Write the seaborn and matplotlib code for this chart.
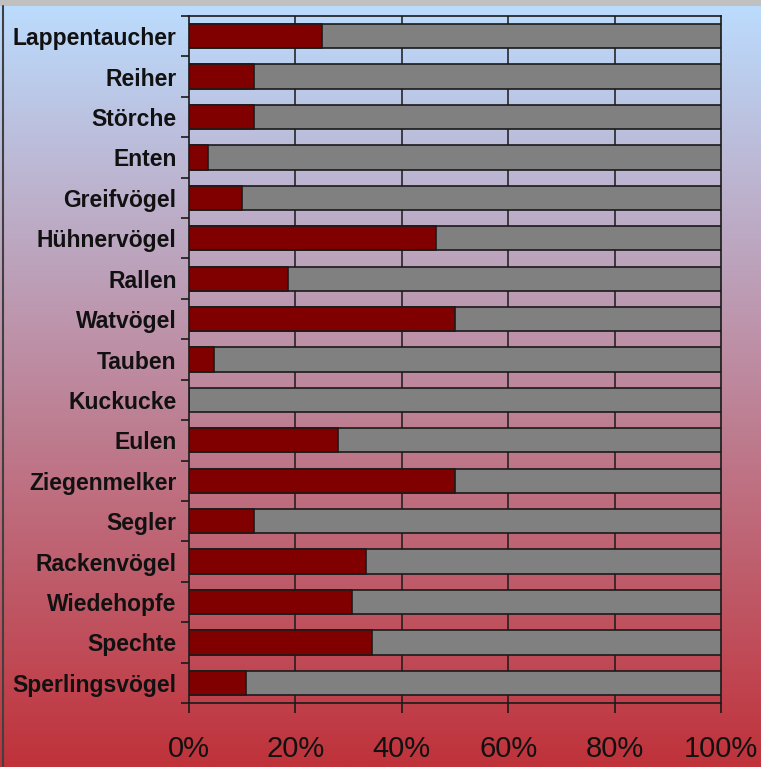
import matplotlib
matplotlib.use('Agg')
import matplotlib.pyplot as plt
import numpy as np
import pandas as pd
import seaborn as sns

# Data (share in %)
birds = ['Lappentaucher', 'Reiher', 'Störche', 'Enten', 'Greifvögel', 'Hühnervögel',
         'Rallen', 'Watvögel', 'Tauben', 'Kuckucke', 'Eulen', 'Ziegenmelker',
         'Segler', 'Rackenvögel', 'Wiedehopfe', 'Spechte', 'Sperlingsvögel']
share = [25.0, 12.2, 12.2, 3.6, 10.0, 46.4, 18.6, 50.0, 4.7, 0.0, 28.0, 50.0,
         12.2, 33.3, 30.6, 34.4, 10.7]
total = [100] * len(birds)
x_ticks = [0, 20, 40, 60, 80, 100]
x_labels = ['0%', '20%', '40%', '60%', '80%', '100%']

df = pd.DataFrame({'bird': birds, 'share': share, 'total': total})

sns.set_theme(style='white')
plt.rcParams['font.family'] = ['Liberation Sans', 'DejaVu Sans']

fig = plt.figure(figsize=(7.61, 7.67), dpi=100)

# background gradient (light blue at top -> red at bottom)
bg = fig.add_axes([0, 0, 1, 1], zorder=-5)
top_c = np.array([187, 221, 255]) / 255
bot_c = np.array([192, 50, 58]) / 255
t = np.linspace(0, 1, 256)[:, None]
grad = (top_c[None, :] * (1 - t) + bot_c[None, :] * t)[:, None, :]
bg.imshow(grad, aspect='auto', extent=[0, 1, 0, 1], origin='upper')
bg.add_patch(plt.Rectangle((0, 1 - 6 / 767), 1, 6 / 767, color='#c0c0c0', lw=0))
bg.plot([2.5 / 761, 2.5 / 761], [0, 1 - 6 / 767], color='#404040', lw=1.5)
bg.set_xlim(0, 1)
bg.set_ylim(0, 1)
bg.axis('off')

ax = fig.add_axes([189 / 761, 1 - 703 / 767, 532 / 761, 687 / 767])
ax.set_facecolor('none')

sns.barplot(data=df, x='total', y='bird', color='#808080', width=0.6,
            edgecolor='#1a1a1a', linewidth=1.2, saturation=1, ax=ax, zorder=3)
sns.barplot(data=df, x='share', y='bird', color='#800000', width=0.6,
            edgecolor='#1a1a1a', linewidth=1.2, saturation=1, ax=ax, zorder=4)

ax.set_xlim(0, 100)
ax.set_ylim(len(birds) - 0.5, -0.5)
ax.set_xticks(x_ticks)
ax.set_xticklabels(x_labels, fontsize=21)
ax.set_yticks(range(len(birds)))
ax.set_yticklabels(birds, fontsize=16.5, fontweight='bold', color='#111111')
ax.set_yticks(np.arange(-0.5, len(birds), 1), minor=True)
ax.tick_params(axis='y', which='major', length=0, pad=9)
ax.tick_params(axis='y', which='minor', length=6, width=1.2, color='#1a1a1a', direction='out', left=True)
ax.tick_params(axis='x', which='major', length=7, width=1.2, color='#1a1a1a', direction='out',
               bottom=True, pad=16, labelcolor='#111111')
ax.set_xlabel('')
ax.set_ylabel('')

for x in x_ticks[1:-1]:
    ax.axvline(x, color='#1a1a1a', lw=1.1, zorder=1)
for s in ax.spines.values():
    s.set_visible(True)
    s.set_color('#1a1a1a')
    s.set_linewidth(1.2)

fig.savefig('out.png', dpi=100)
